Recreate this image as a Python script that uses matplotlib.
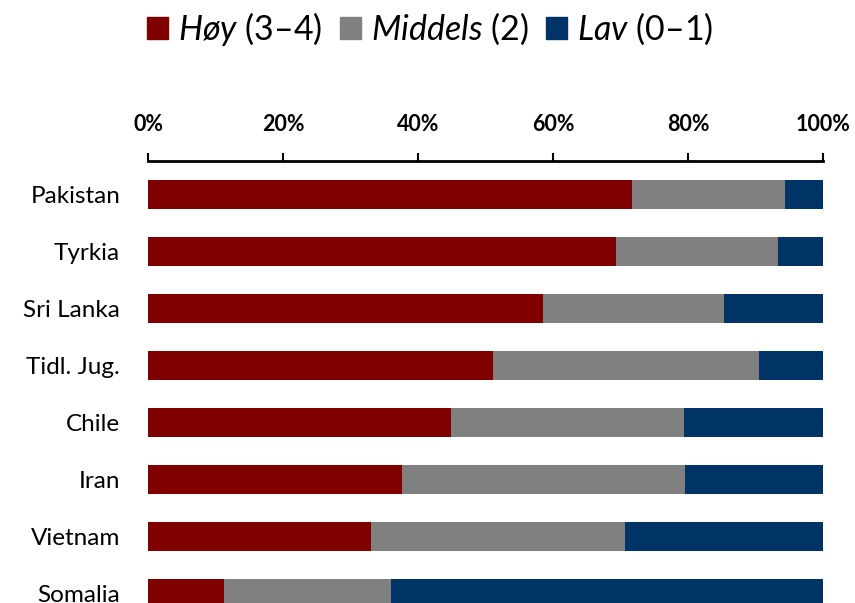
import matplotlib.pyplot as plt
import numpy as np
from matplotlib.patches import Patch

plt.rcParams['font.family'] = ['Lato', 'DejaVu Sans']
plt.rcParams['mathtext.fontset'] = 'custom'
plt.rcParams['mathtext.rm'] = 'Lato'
plt.rcParams['mathtext.it'] = 'Lato:italic'

countries = ['Pakistan', 'Tyrkia', 'Sri Lanka', 'Tidl. Jug.', 'Chile', 'Iran', 'Vietnam', 'Somalia']
hoy = np.array([71.7, 69.3, 58.5, 51.1, 44.9, 37.7, 33.0, 11.2])
middels = np.array([22.7, 24.0, 26.8, 39.4, 34.5, 41.9, 37.6, 24.8])
lav = np.array([5.6, 6.7, 14.7, 9.5, 20.6, 20.4, 29.4, 64.0])
xticks = [0, 20, 40, 60, 80, 100]
labels = [r'$\mathit{Høy}$ (3–4)', r'$\mathit{Middels}$ (2)', r'$\mathit{Lav}$ (0–1)']
colors = ['#800000', '#808080', '#003366']

fig = plt.figure(figsize=(8.55, 6.03), dpi=100)
ax = fig.add_axes([148 / 855, 0, 675 / 855, 1 - 161 / 603])

y = np.arange(len(countries))
ax.barh(y, hoy, height=0.51, color=colors[0])
ax.barh(y, middels, left=hoy, height=0.51, color=colors[1])
ax.barh(y, lav, left=hoy + middels, height=0.51, color=colors[2])

ax.set_xlim(0, 100)
ax.set_ylim(7.167, -0.588)
ax.xaxis.tick_top()
ax.set_xticks(xticks)
ax.set_xticklabels([f'{t}%' for t in xticks], fontsize=15.5, fontweight='bold')
ax.tick_params(axis='x', direction='out', length=6, width=1.5, pad=13)
ax.set_yticks(y)
ax.set_yticklabels(countries, fontsize=17.5)
ax.tick_params(axis='y', length=0, pad=20)
for s in ['left', 'right', 'bottom']:
    ax.spines[s].set_visible(False)
ax.spines['top'].set_linewidth(2)

handles = [Patch(color=c) for c in colors]
fig.legend(handles, labels, loc='upper center', bbox_to_anchor=(0.503, 1.035),
           ncol=3, frameon=False, fontsize=24.5, handlelength=0.62, handleheight=0.62,
           handletextpad=0.3, columnspacing=0.5)

fig.savefig('out.png', dpi=100)
